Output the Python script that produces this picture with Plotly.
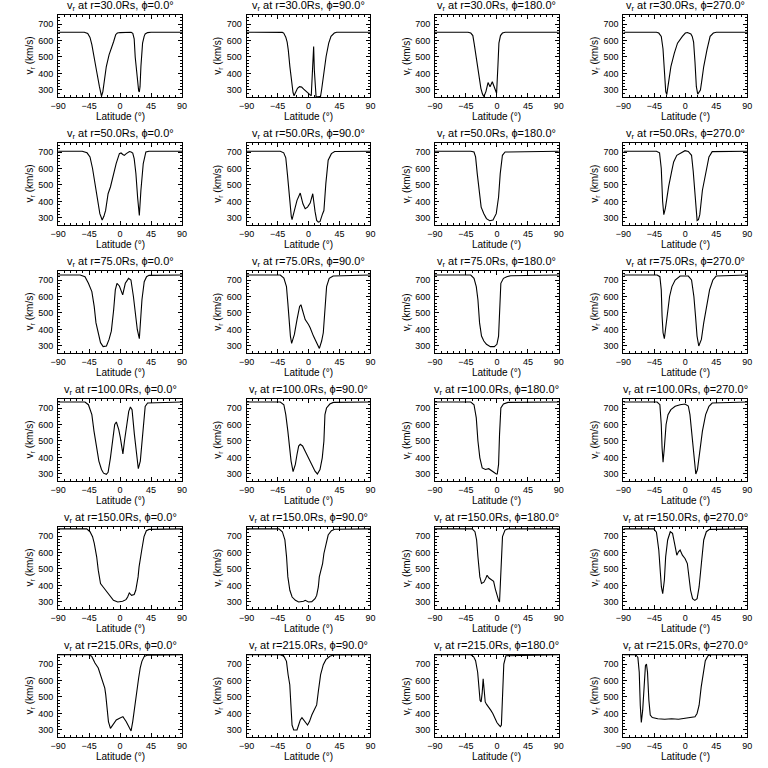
import plotly.graph_objects as go

RADII = ["30.0", "50.0", "75.0", "100.0", "150.0", "215.0"]
PHIS = ["0.0", "90.0", "180.0", "270.0"]
X_TICKS = [-90, -45, 0, 45, 90]
X_TICKTEXT = ["\u221290", "\u221245", "0", "45", "90"]
Y_TICKS = [300, 400, 500, 600, 700]
Y_RANGE = [258, 757]

# ---- r = 30 Rs ----
lat_r30_p0 = [-90, -52, -47, -43.7, -41, -38, -34, -30, -27, -25, -23, -20, -16, -12.6, -9.3, -6.4, -4, 0, 5, 10, 13, 16, 18.5, 20.5, 22, 24, 25.6, 27, 28, 29, 30.3, 32.7, 35, 36.5, 40, 45, 90]
v_r30_p0 = [650, 650, 642, 619, 575, 513, 412, 320, 262, 290, 340, 442, 513, 548, 594, 635, 645, 648, 648, 650, 652, 650, 643, 610, 500, 400, 330, 295, 288, 320, 442, 584, 625, 640, 648, 650, 650]
lat_r30_p90 = [-90, -42, -38, -36, -33, -31, -29.4, -27, -24.6, -22.5, -21, -19, -16, -13, -10, -7, -4, -1, 2, 4, 5.5, 7, 7.5, 8.5, 10, 11, 14, 17.5, 19, 20.8, 23, 25.6, 29.4, 32.7, 37.5, 41, 90]
v_r30_p90 = [650, 650, 649, 645, 620, 590, 543, 440, 340, 285, 265, 285, 310, 320, 318, 305, 292, 282, 272, 265, 380, 540, 564, 420, 300, 260, 258, 262, 300, 360, 430, 503, 584, 625, 645, 650, 650]
lat_r30_p180 = [-90, -42, -38, -35, -33, -30.5, -28, -26.7, -23.3, -21, -19.5, -18, -16, -12.9, -10, -6.7, -4.3, -1.9, -0.5, 1.4, 2.9, 5.2, 8, 12, 90]
v_r30_p180 = [650, 650, 645, 630, 580, 503, 430, 381, 310, 275, 263, 270, 290, 345, 320, 350, 325, 290, 280, 442, 584, 630, 645, 650, 650]
lat_r30_p270 = [-90, -42, -38.6, -35, -32.5, -30, -28.5, -27, -25, -21, -16, -11.4, -4.3, 0, 3, 5, 8, 10, 12, 14, 16, 18, 20, 21.9, 24, 26.7, 31.4, 36, 40.7, 45, 90]
v_r30_p270 = [650, 650, 645, 625, 550, 380, 290, 272, 330, 442, 523, 584, 625, 645, 648, 646, 640, 625, 590, 470, 320, 275, 285, 300, 360, 442, 543, 625, 645, 650, 650]

# ---- r = 50 Rs ----
lat_r50_p0 = [-90, -55, -48, -43.7, -40, -36.5, -33, -29.4, -26, -23.5, -21, -17.4, -14, -10.5, -5.7, -1, 1.4, 4, 6.2, 9, 13.6, 16, 18.4, 20.5, 23, 25.6, 28, 30.3, 33.7, 37.5, 42, 90]
v_r50_p0 = [705, 705, 695, 670, 600, 508, 407, 326, 288, 310, 346, 447, 488, 548, 630, 690, 694, 685, 680, 690, 703, 700, 694, 660, 570, 420, 315, 468, 630, 700, 705, 705]
lat_r50_p90 = [-90, -41, -36, -33, -30.5, -28.7, -27, -25, -23.9, -20.5, -16.7, -12, -8.1, -4.8, -1.4, 2.4, 6.2, 9.5, 11.9, 14.3, 16.7, 20.5, 22.4, 25.2, 28.6, 33.3, 38, 90]
v_r50_p90 = [705, 705, 695, 665, 560, 468, 367, 310, 290, 346, 407, 451, 386, 356, 366, 390, 447, 340, 285, 275, 278, 326, 345, 508, 650, 690, 703, 705]
lat_r50_p180 = [-90, -38, -33.3, -31, -28.6, -26.2, -22.9, -19, -15.2, -10.5, -5.7, -1, 2.4, 4.8, 8, 11.9, 90]
v_r50_p180 = [705, 705, 700, 670, 569, 468, 366, 326, 296, 283, 288, 326, 427, 569, 680, 700, 705]
lat_r50_p270 = [-90, -42, -37.5, -35, -33, -31.3, -29, -27.6, -24.3, -19.5, -17, -12.4, -6.7, -0.5, 4.3, 9, 11.4, 13.8, 16, 17.1, 19, 21, 24.8, 29.5, 34.3, 39, 90]
v_r50_p270 = [705, 705, 695, 600, 400, 320, 360, 410, 490, 590, 640, 680, 694, 708, 703, 680, 585, 450, 320, 285, 290, 320, 468, 570, 670, 702, 705]

# ---- r = 75 Rs ----
lat_r75_p0 = [-90, -58, -51, -46, -41, -37.6, -35, -31.7, -28.4, -24.6, -19.8, -16, -12.7, -9.3, -6.9, -4.5, -1, 3.8, 7.6, 12.4, 15.8, 19.4, 22.2, 25, 28, 29.4, 31.8, 35.1, 38.5, 42, 90]
v_r75_p0 = [730, 730, 720, 680, 630, 540, 440, 380, 320, 296, 300, 340, 390, 520, 640, 680, 664, 610, 680, 710, 700, 600, 480, 400, 344, 420, 580, 690, 720, 728, 730]
lat_r75_p90 = [-90, -41, -35.8, -32, -30, -28.2, -26.3, -24.5, -22.5, -20.5, -16.7, -12.9, -11, -8.1, -4.8, 0, 2.4, 7.2, 11.9, 15.8, 19.1, 21.5, 23.9, 26.3, 30.1, 35.8, 90]
v_r75_p90 = [730, 730, 712, 660, 560, 440, 360, 316, 340, 370, 460, 540, 550, 510, 460, 430, 410, 360, 320, 285, 330, 380, 520, 660, 710, 724, 730]
lat_r75_p180 = [-90, -38, -33.3, -30, -27.6, -25.2, -22.4, -19, -15.2, -9.5, -3.8, 0, 2.4, 3.8, 5.7, 9.5, 14.3, 20, 90]
v_r75_p180 = [730, 730, 710, 660, 580, 440, 360, 330, 310, 296, 296, 310, 360, 540, 680, 710, 720, 726, 730]
lat_r75_p270 = [-90, -41, -37, -35, -33.8, -32.4, -30.5, -28, -25.7, -22.9, -19.5, -14.8, -7.6, 0, 4.3, 9, 12.4, 14.8, 17, 19.5, 23.3, 26.7, 30.5, 35.2, 40, 44.8, 90]
v_r75_p270 = [730, 730, 720, 640, 480, 380, 344, 420, 520, 600, 660, 700, 724, 726, 724, 700, 600, 480, 360, 300, 340, 440, 540, 640, 700, 724, 730]

# ---- r = 100 Rs ----
lat_r100_p0 = [-90, -51, -46, -41, -37.9, -34, -30.8, -27, -24, -20, -17.4, -14, -11.1, -7.8, -5.4, -2, 0.4, 2.1, 4.1, 6.4, 9.8, 12.6, 15, 17.4, 20.8, 24.1, 26.5, 29.4, 31.8, 34.2, 36.5, 40, 90]
v_r100_p0 = [736, 736, 720, 660, 560, 459, 378, 327, 305, 298, 310, 398, 500, 600, 615, 570, 520, 478, 422, 500, 600, 680, 706, 690, 540, 398, 332, 378, 500, 640, 710, 730, 736]
lat_r100_p90 = [-90, -41, -35.8, -33, -30, -27.7, -25.3, -22.4, -19.1, -16.7, -14.3, -12, -8.6, -4.8, 0, 4.8, 9.5, 12.9, 16.7, 20, 22.4, 23.9, 26.2, 31, 36, 90]
v_r100_p90 = [736, 736, 720, 660, 560, 459, 378, 314, 358, 418, 469, 480, 470, 438, 398, 358, 317, 300, 327, 398, 500, 660, 700, 724, 734, 736]
lat_r100_p180 = [-90, -38, -33.3, -30, -27.6, -24.8, -21.4, -16.7, -11.9, -7.1, -4.8, -1, 0.5, 2.4, 3.8, 5.7, 9.5, 16, 90]
v_r100_p180 = [736, 736, 720, 640, 500, 398, 337, 327, 332, 317, 312, 300, 300, 358, 540, 700, 724, 734, 736]
lat_r100_p270 = [-90, -41, -37, -35, -33.8, -32.4, -30.5, -28, -25.2, -21, -14.8, -7.6, -0.5, 4.3, 6.7, 9, 11.4, 13.5, 15.2, 17.6, 21, 24.8, 29.5, 34.3, 39, 90]
v_r100_p270 = [736, 736, 720, 600, 459, 372, 459, 600, 660, 690, 710, 720, 724, 712, 660, 560, 438, 340, 300, 327, 438, 560, 660, 710, 730, 736]

# ---- r = 150 Rs ----
lat_r150_p0 = [-90, -48.5, -43.7, -40, -37.5, -34, -31.7, -28.4, -24.6, -21, -18.6, -14.3, -9.6, -3.4, 3.8, 8.6, 11, 13.4, 15, 16.7, 20.5, 22.8, 26.2, 27.6, 31.5, 34.8, 38.2, 42, 90]
v_r150_p0 = [743, 743, 726, 696, 655, 574, 493, 412, 391, 371, 355, 330, 310, 300, 304, 314, 330, 355, 348, 340, 345, 371, 452, 513, 615, 696, 732, 740, 743]
lat_r150_p90 = [-90, -43, -38, -34.3, -31.9, -30, -27.1, -23.8, -19, -14.3, -7.1, -4.8, 0, 4.8, 9.5, 11.9, 14.3, 15.7, 18.1, 20.5, 22.4, 25.2, 28.6, 33.3, 38, 90]
v_r150_p90 = [743, 743, 726, 676, 574, 452, 371, 330, 310, 300, 304, 310, 300, 302, 320, 340, 391, 452, 493, 533, 594, 655, 706, 732, 741, 743]
lat_r150_p180 = [-90, -36, -31.9, -29.5, -27.6, -24.8, -22.4, -19, -16.5, -14.3, -11.5, -8, -4.8, -2.4, 0, 2.4, 3.8, 5.7, 8.1, 11.9, 16, 90]
v_r150_p180 = [743, 743, 726, 676, 574, 452, 412, 420, 440, 462, 445, 435, 425, 380, 340, 310, 300, 513, 696, 737, 743, 743]
lat_r150_p270 = [-90, -46, -42, -38.6, -36.2, -34.8, -32.9, -30.5, -28.6, -25.7, -21.9, -18.6, -15.7, -12.4, -10, -7.6, -4.3, -0.5, 2.9, 5.2, 7.6, 10.5, 13.8, 17.1, 20, 23.3, 26.7, 30.5, 35.2, 90]
v_r150_p270 = [743, 743, 723, 615, 473, 391, 351, 432, 574, 676, 726, 716, 655, 584, 604, 615, 584, 564, 533, 452, 371, 320, 310, 320, 391, 533, 676, 726, 740, 743]

# ---- r = 215 Rs ----
lat_r215_p0 = [-90, -46, -41.3, -36.5, -31.7, -27, -22.2, -20.8, -18.8, -16.9, -14, -10.2, -5.5, -0.7, 4.1, 8.8, 12.7, 16, 18.4, 20.8, 24.1, 27, 29.3, 31.7, 35, 40, 90]
v_r215_p0 = [756, 756, 747, 706, 676, 615, 554, 513, 412, 351, 310, 330, 361, 371, 381, 351, 320, 294, 351, 432, 533, 615, 676, 716, 745, 754, 756]
lat_r215_p90 = [-90, -41, -35.8, -32, -29.6, -27.2, -25.3, -23.9, -21.5, -16.7, -14.3, -11.9, -9.5, -4.8, -1.4, 1.4, 4.8, 9.5, 11.9, 14.3, 17.6, 21.5, 25.3, 31, 36, 90]
v_r215_p90 = [756, 756, 747, 716, 635, 574, 432, 330, 300, 300, 330, 361, 375, 351, 330, 351, 391, 432, 452, 533, 635, 696, 726, 747, 755, 756]
lat_r215_p180 = [-90, -38, -34, -31, -28, -26, -24.5, -23, -21.5, -20, -18.5, -17, -15, -12, -9, -6, -3, 0, 3, 5, 6.5, 8, 10, 13, 90]
v_r215_p180 = [756, 756, 745, 720, 650, 540, 480, 470, 520, 610, 520, 470, 455, 440, 420, 400, 370, 345, 330, 320, 330, 500, 700, 750, 756]
lat_r215_p270 = [-90, -72, -69, -67, -65.5, -64, -62, -60, -58, -56.5, -55, -53, -51, -48, -44, -40, -30, -20, -10, 0, 8, 14, 17, 20, 23, 26, 29, 33, 37, 90]
v_r215_p270 = [756, 756, 740, 650, 450, 345, 420, 580, 690, 700, 650, 480, 390, 375, 370, 368, 365, 368, 365, 370, 375, 380, 400, 450, 560, 650, 720, 750, 756, 756]

PANELS = [
    [(lat_r30_p0, v_r30_p0), (lat_r30_p90, v_r30_p90), (lat_r30_p180, v_r30_p180), (lat_r30_p270, v_r30_p270)],
    [(lat_r50_p0, v_r50_p0), (lat_r50_p90, v_r50_p90), (lat_r50_p180, v_r50_p180), (lat_r50_p270, v_r50_p270)],
    [(lat_r75_p0, v_r75_p0), (lat_r75_p90, v_r75_p90), (lat_r75_p180, v_r75_p180), (lat_r75_p270, v_r75_p270)],
    [(lat_r100_p0, v_r100_p0), (lat_r100_p90, v_r100_p90), (lat_r100_p180, v_r100_p180), (lat_r100_p270, v_r100_p270)],
    [(lat_r150_p0, v_r150_p0), (lat_r150_p90, v_r150_p90), (lat_r150_p180, v_r150_p180), (lat_r150_p270, v_r150_p270)],
    [(lat_r215_p0, v_r215_p0), (lat_r215_p90, v_r215_p90), (lat_r215_p180, v_r215_p180), (lat_r215_p270, v_r215_p270)],
]

W = 768
FONT = "Liberation Sans"
BOX_W = 126
BOX_H = 82.3
COL_STEP = 191.67
ROW_STEP = 128

fig = go.Figure()
layout = dict(
    width=W, height=W, margin=dict(l=0, r=0, t=0, b=0),
    paper_bgcolor="white", plot_bgcolor="white", showlegend=False,
    font=dict(family=FONT, color="black", size=9),
)
annotations = []

for r in range(6):
    for c in range(4):
        i = r * 4 + c + 1
        x0 = 51 + COL_STEP * c
        x1 = x0 + BOX_W
        top = 14.6 + ROW_STEP * r
        bot = top + BOX_H
        xs, ys = PANELS[r][c]
        xa = "x" if i == 1 else f"x{i}"
        ya = "y" if i == 1 else f"y{i}"
        fig.add_trace(go.Scatter(x=xs, y=ys, mode="lines", xaxis=xa, yaxis=ya,
                                 line=dict(color="black", width=1.1), hoverinfo="skip"))
        common = dict(ticks="inside", ticklen=4, tickcolor="black", mirror="allticks",
                      showline=True, linecolor="black", linewidth=1, showgrid=False,
                      zeroline=False, tickfont=dict(family=FONT, size=9, color="black"))
        layout["xaxis" if i == 1 else f"xaxis{i}"] = dict(
            domain=[x0 / W, x1 / W], range=[-90, 90], tickvals=X_TICKS, ticktext=X_TICKTEXT,
            anchor=ya, minor=dict(ticks="inside", ticklen=2, tickcolor="black", dtick=9, showgrid=False),
            **common)
        layout["yaxis" if i == 1 else f"yaxis{i}"] = dict(
            domain=[1 - bot / W, 1 - top / W], range=Y_RANGE, tickvals=Y_TICKS,
            anchor=xa, minor=dict(ticks="inside", ticklen=2, tickcolor="black", dtick=20, showgrid=False),
            ticklabelstandoff=2, **common)
        cx = (x0 + x1) / 2
        annotations.append(dict(
            x=cx / W, y=1 - (top - 8.3) / W, xref="paper", yref="paper",
            xanchor="center", yanchor="middle", showarrow=False,
            text=f"v<sub>r</sub> at r={RADII[r]}Rs, \u03d5={PHIS[c]}\u00b0",
            font=dict(family=FONT, size=11, color="black")))
        annotations.append(dict(
            x=cx / W, y=1 - (bot + 20) / W, xref="paper", yref="paper",
            xanchor="center", yanchor="middle", showarrow=False,
            text="Latitude (\u00b0)", font=dict(family=FONT, size=10, color="black")))
        annotations.append(dict(
            x=(x0 - 29) / W, y=1 - ((top + bot) / 2) / W, xref="paper", yref="paper",
            xanchor="center", yanchor="middle", showarrow=False, textangle=-90,
            text="v<sub>r</sub> (km/s)", font=dict(family=FONT, size=10, color="black")))

layout["annotations"] = annotations
fig.update_layout(**layout)
fig.write_html("out.html", config={"displayModeBar": False},
               post_script="document.body.style.margin='0px';")
